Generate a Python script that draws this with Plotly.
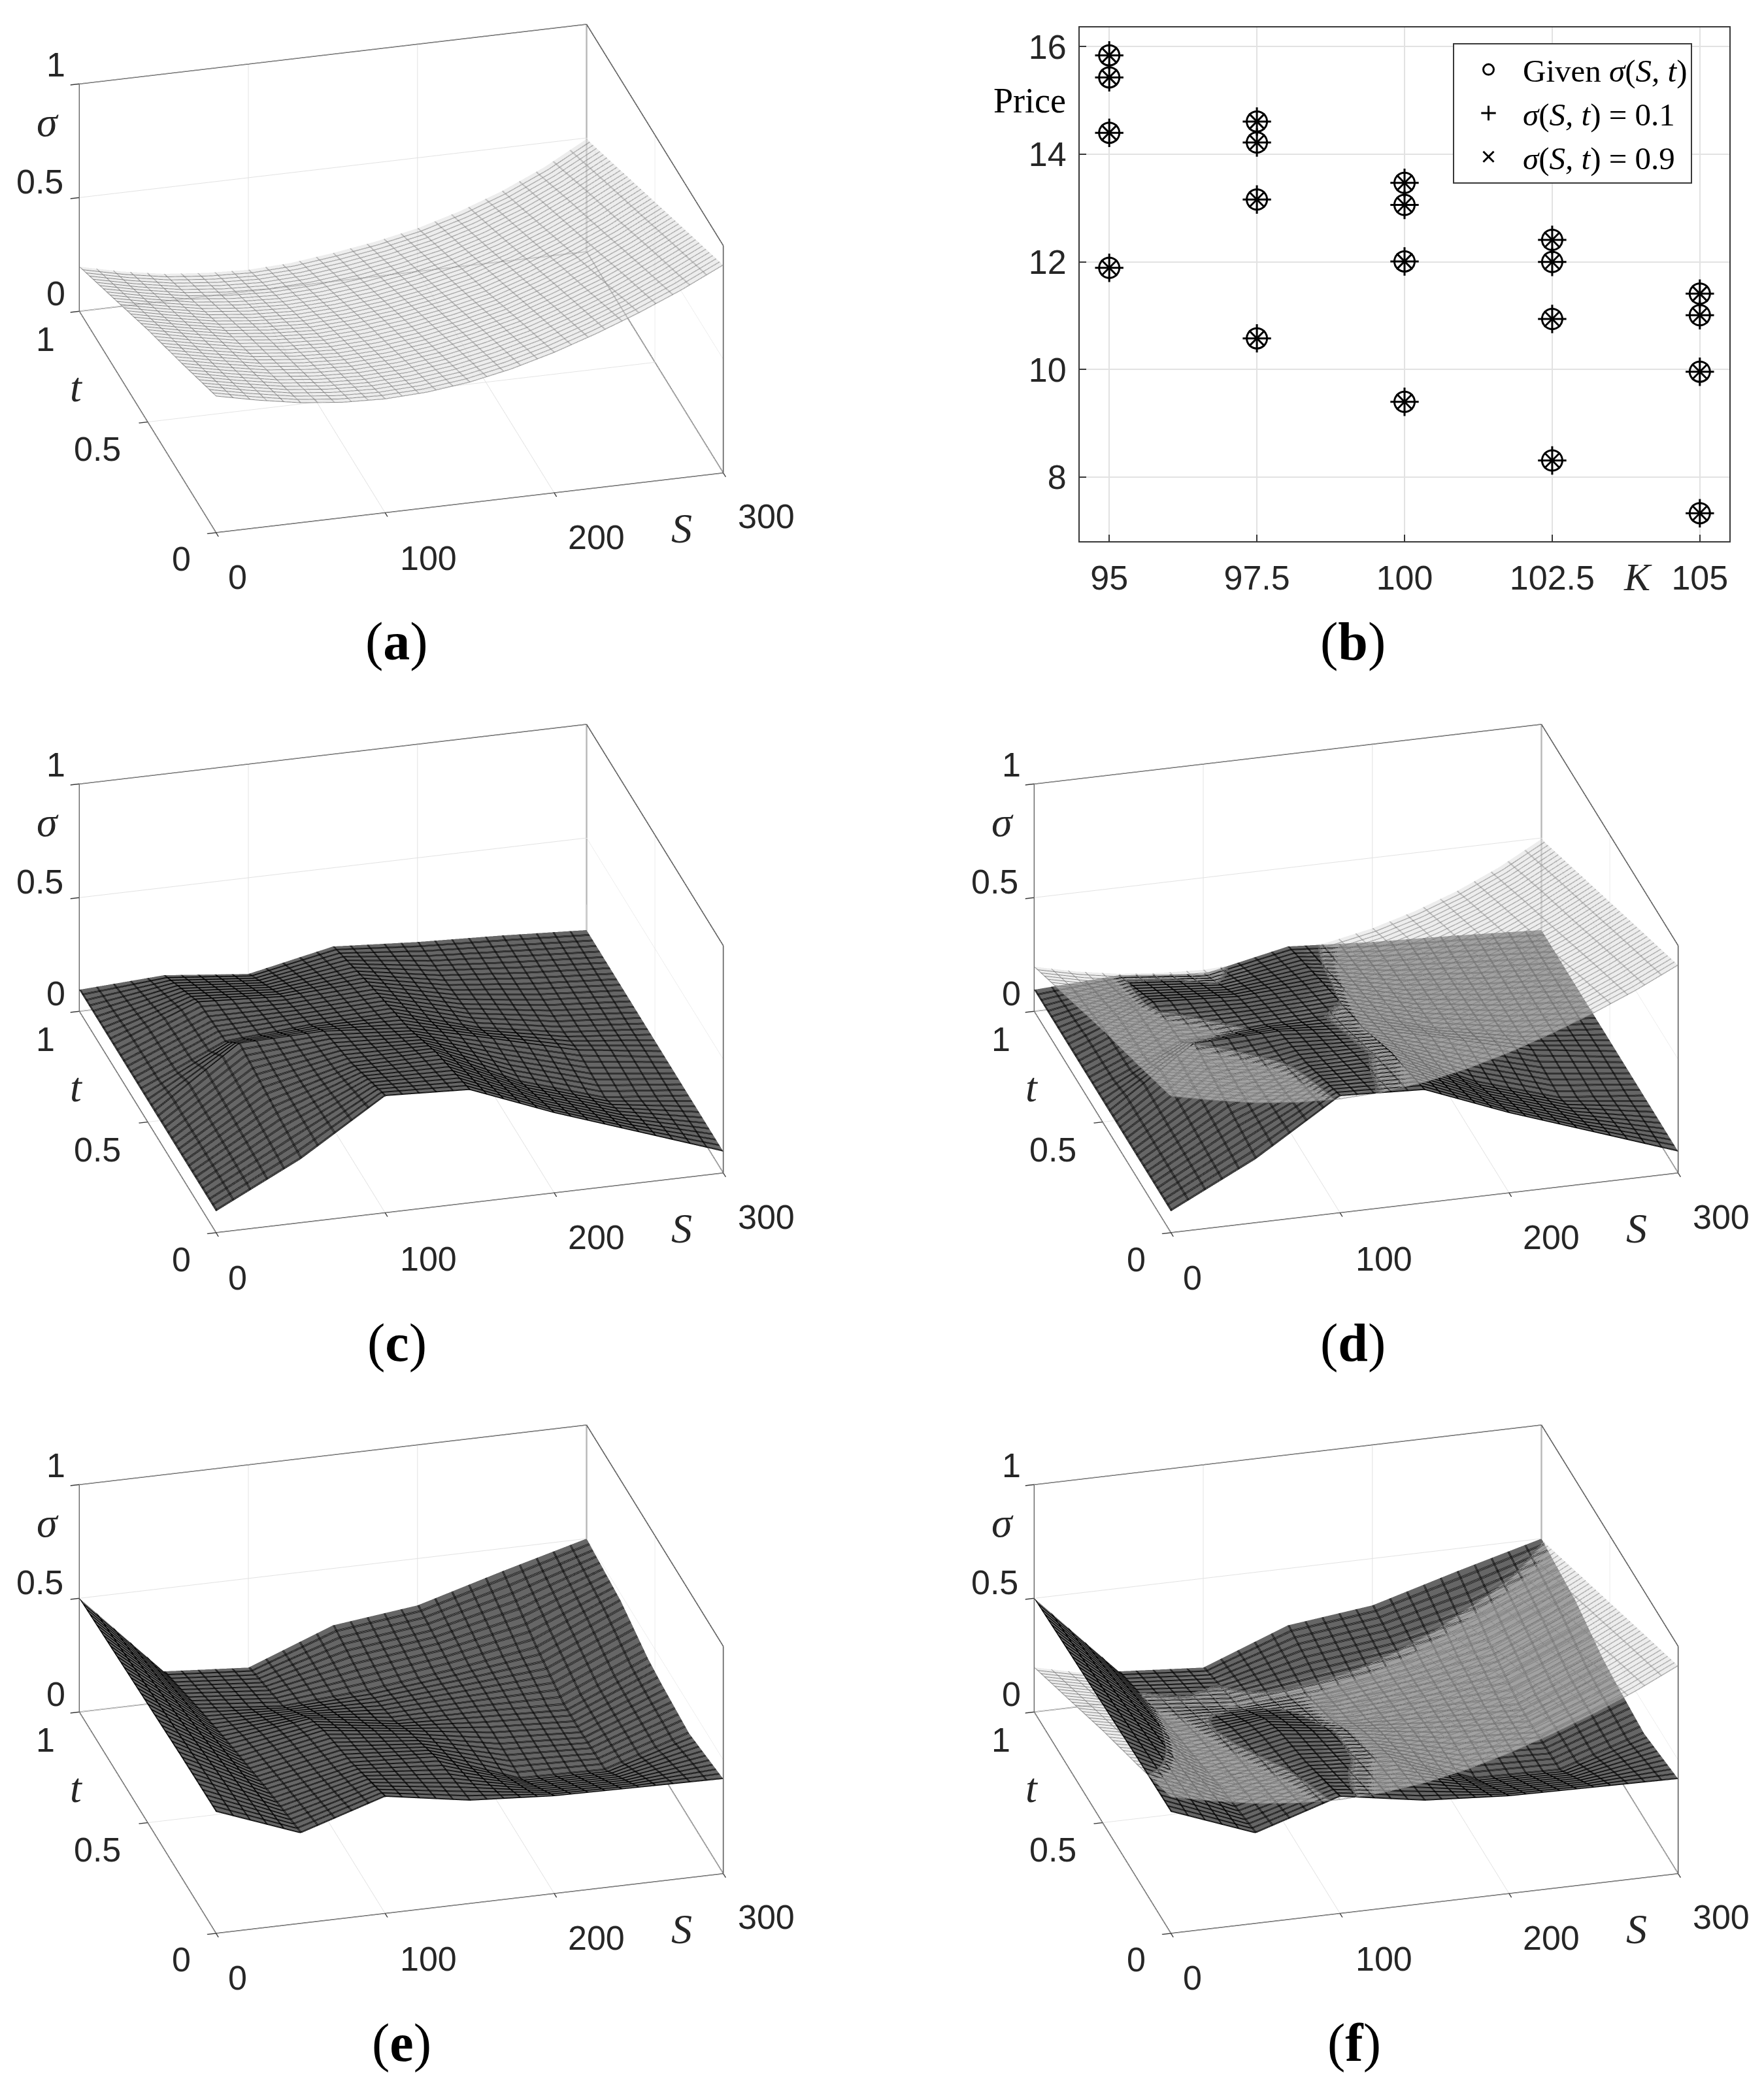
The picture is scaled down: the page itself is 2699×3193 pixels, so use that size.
import plotly.graph_objects as go

# ---------- data ----------
S_GIVEN = [0, 25, 50, 75, 100, 125, 150, 175, 200, 225, 250, 275, 300]
T_GIVEN = [0, 0.25, 0.5, 0.75, 1]
S_KNOTS = [0, 50, 100, 150, 200, 250, 300]
T_KNOTS = [0, 0.25, 0.45, 0.55, 0.75, 1]
S_TICKS = [0, 100, 200, 300]
T_TICKS = [0, 0.5, 1]
Z_TICKS = [0, 0.5, 1]

SIGMA_GIVEN = [
    [0.600, 0.560, 0.527, 0.507, 0.500, 0.508, 0.530, 0.567, 0.617, 0.678, 0.747, 0.825, 0.914],
    [0.500, 0.462, 0.428, 0.408, 0.400, 0.408, 0.430, 0.466, 0.510, 0.570, 0.638, 0.720, 0.810],
    [0.405, 0.365, 0.330, 0.310, 0.300, 0.310, 0.330, 0.360, 0.400, 0.460, 0.530, 0.610, 0.705],
    [0.300, 0.260, 0.225, 0.205, 0.197, 0.205, 0.225, 0.255, 0.295, 0.350, 0.420, 0.505, 0.600],
    [0.196, 0.153, 0.121, 0.103, 0.095, 0.103, 0.125, 0.153, 0.190, 0.243, 0.310, 0.393, 0.495],
]
SIGMA_LOW = [
    [0.095, 0.280, 0.514, 0.497, 0.352, 0.224, 0.095],
    [0.095, 0.320, 0.415, 0.420, 0.246, 0.130, 0.095],
    [0.095, 0.350, 0.360, 0.330, 0.240, 0.145, 0.095],
    [0.095, 0.260, 0.290, 0.300, 0.190, 0.125, 0.095],
    [0.095, 0.240, 0.220, 0.240, 0.160, 0.120, 0.095],
    [0.095, 0.115, 0.077, 0.154, 0.130, 0.115, 0.095],
]
SIGMA_HIGH = [
    [0.535, 0.397, 0.514, 0.453, 0.429, 0.423, 0.417],
    [0.530, 0.345, 0.420, 0.400, 0.262, 0.256, 0.374],
    [0.522, 0.295, 0.365, 0.320, 0.268, 0.248, 0.395],
    [0.518, 0.270, 0.320, 0.265, 0.262, 0.250, 0.410],
    [0.510, 0.214, 0.180, 0.205, 0.250, 0.305, 0.470],
    [0.500, 0.135, 0.108, 0.250, 0.294, 0.400, 0.500],
]

K_VALUES = [95, 97.5, 100, 102.5, 105]
K_LABELS = ["95", "97.5", "100", "102.5", "105"]
PRICE_TICKS = [8, 10, 12, 14, 16]
PRICE_K = [95]*4 + [97.5]*4 + [100]*4 + [102.5]*4 + [105]*4
PRICE_GIVEN = [15.84, 15.43, 14.40, 11.89, 14.61, 14.22, 13.16, 10.58, 13.47, 13.06, 12.01, 9.40,
               12.41, 12.00, 10.94, 8.31, 11.41, 11.01, 9.96, 7.33]
PRICE_LOW = list(PRICE_GIVEN)
PRICE_HIGH = list(PRICE_GIVEN)

# ---------- layout constants ----------
W, H = 2699, 3193
PAD = 8                       # page body margin
FW, FH = W - 2*PAD, H - 2*PAD
DOM_W, DOM_H = 1200, 830
TICK_FONT = "Liberation Sans"
MATH_FONT = "Liberation Serif"
TXT = "#262626"
LINE = "#383838"
GRID = "#e2e2e2"
EYE = (-0.2342, -0.8688, 0.4364)
EYE_SCALE = 4
ASPECT = 1.937
T_STEP = 1/40

def fx(px):
    return (px - PAD)/FW

def fy(py):
    return 1 - (py - PAD)/FH

def scene_dom(cx, cy):
    return dict(x=[fx(cx - DOM_W/2), fx(cx + DOM_W/2)],
                y=[fy(cy + DOM_H/2), fy(cy - DOM_H/2)])

def surf(x, y, z, scene, face, edge, opacity, hide=False, lines=True, ds=0.0, dt=0.0):
    off = dict(show=False, highlight=False)
    c = dict(show=True, color=edge, width=2, highlight=False)
    cx = dict(c, start=0 + ds, end=300, size=10) if lines else off
    cy = dict(c, start=0 + dt, end=1, size=T_STEP) if lines else off
    return go.Surface(
        x=x, y=y, z=z, scene=scene, showscale=False, opacity=opacity, hidesurface=hide,
        colorscale=[[0, face], [1, face]], cmin=0, cmax=1, hoverinfo="skip",
        lighting=dict(ambient=1, diffuse=0, specular=0, fresnel=0, roughness=1),
        contours=dict(x=cx, y=cy, z=off))

def dark(z, scene):
    # WebGL draws contour lines one pixel wide; neighbouring contour sets give the heavier mesh
    return [surf(S_KNOTS, T_KNOTS, z, scene, "#666666", "#000000", 1),
            surf(S_KNOTS, T_KNOTS, z, scene, "#000000", "#000000", 1, hide=True, ds=0.4, dt=0.003),
            surf(S_KNOTS, T_KNOTS, z, scene, "#000000", "#000000", 1, hide=True, ds=0.8, dt=0.006)]

def gray(scene):
    return [surf(S_GIVEN, T_GIVEN, SIGMA_GIVEN, scene, "#808080", "#808080", 1, hide=True),
            surf(S_GIVEN, T_GIVEN, SIGMA_GIVEN, scene, "#808080", "#808080", 1, hide=True, ds=0.4, dt=0.003),
            surf(S_GIVEN, T_GIVEN, SIGMA_GIVEN, scene, "#dcdcdc", "#808080", 0.5, lines=False)]

def box(scene):
    xs, ys, zs = [], [], []
    edges = [((0,1,0),(300,1,0)), ((300,1,0),(300,0,0)), ((300,0,0),(0,0,0)), ((0,0,0),(0,1,0)),
             ((0,1,0),(0,1,1)), ((300,1,0),(300,1,1)), ((300,0,0),(300,0,1)),
             ((0,1,1),(300,1,1)), ((300,1,1),(300,0,1))]
    for a, b in edges:
        xs += [a[0], b[0], None]; ys += [a[1], b[1], None]; zs += [a[2], b[2], None]
    return go.Scatter3d(x=xs, y=ys, z=zs, mode="lines", scene=scene, showlegend=False,
                        hoverinfo="skip", line=dict(color=LINE, width=3))

def labels():
    out = []
    def add(x, y, z, text, dx, dy, fam=TICK_FONT, size=52):
        out.append(dict(x=x, y=y, z=z, text=text, showarrow=False, xshift=dx, yshift=-dy,
                        xanchor="center", yanchor="middle",
                        font=dict(family=fam, size=size, color=TXT)))
    for v, t, dx, dy in zip(Z_TICKS, ["0", "0.5", "1"], [-35, -60, -35], [-27, -24, -29]):
        add(0, 1, v, t, dx, dy)
    for v, t, dx, dy in zip(T_TICKS, ["0", "0.5", "1"], [-53, -76, -51], [41, 42, 43]):
        add(0, v, 0, t, dx, dy)
    for v, t, dx, dy in zip(S_TICKS, ["0", "100", "200", "300"], [33, 67, 65, 66], [69, 70, 68, 67]):
        add(v, 0, 0, t, dx, dy)
    add(0, 1, 0.8, "<i>σ</i>", -48, -11, MATH_FONT, 64)
    add(0, 0.75, 0, "<i>t</i>", -56, 32, MATH_FONT, 64)
    add(250, 0, 0, "<i>S</i>", 66, 70, MATH_FONT, 64)
    return out

def scene_layout(cx, cy):
    def ax(vals, rng):
        return dict(range=rng, tickvals=vals, showticklabels=False, title=dict(text=""),
                    showgrid=True, gridcolor=GRID, gridwidth=2, showline=False, zeroline=False,
                    showbackground=False, showspikes=False, ticks="outside", ticklen=14,
                    tickcolor=LINE, tickwidth=3)
    return dict(domain=scene_dom(cx, cy),
                xaxis=ax(S_TICKS, [0, 300]), yaxis=ax(T_TICKS, [0, 1]), zaxis=ax(Z_TICKS, [0, 1]),
                aspectmode="manual", aspectratio=dict(x=ASPECT, y=ASPECT, z=0.481*ASPECT),
                camera=dict(eye=dict(x=EYE[0]*EYE_SCALE, y=EYE[1]*EYE_SCALE, z=EYE[2]*EYE_SCALE),
                            center=dict(x=0, y=0, z=0), up=dict(x=0, y=0, z=1),
                            projection=dict(type="orthographic")),
                annotations=labels(), bgcolor="rgba(0,0,0,0)")

fig = go.Figure()
panels = [("scene",  613.5, 425.5, None, True),
          ("scene2", 613.5, 1497,  SIGMA_LOW, False),
          ("scene3", 2075,  1497,  SIGMA_LOW, True),
          ("scene4", 613.5, 2568.5, SIGMA_HIGH, False),
          ("scene5", 2075,  2568.5, SIGMA_HIGH, True)]
layout_scenes = {}
for name, cx, cy, dz, has_gray in panels:
    if dz is not None:
        fig.add_traces(dark(dz, name))
    if has_gray:
        fig.add_traces(gray(name))
    fig.add_trace(box(name))
    layout_scenes[name] = scene_layout(cx, cy)

# panel (b)
mk = dict(color="black", line=dict(color="black", width=3))
fig.add_trace(go.Scatter(x=PRICE_K, y=PRICE_GIVEN, mode="markers", name="Given <i>σ</i>(<i>S, t</i>)",
                         marker=dict(symbol="circle-open", size=31, **mk), hoverinfo="skip"))
fig.add_trace(go.Scatter(x=PRICE_K, y=PRICE_LOW, mode="markers", name="<i>σ</i>(<i>S, t</i>) = 0.1",
                         marker=dict(symbol="cross-thin-open", size=31, **mk), hoverinfo="skip"))
fig.add_trace(go.Scatter(x=PRICE_K, y=PRICE_HIGH, mode="markers", name="<i>σ</i>(<i>S, t</i>) = 0.9",
                         marker=dict(symbol="x-thin-open", size=24, **mk), hoverinfo="skip"))

ax2d = dict(showline=True, mirror=True, linecolor=LINE, linewidth=2, ticks="inside", ticklen=10,
            tickcolor=LINE, tickwidth=2, showgrid=True, gridcolor=GRID, gridwidth=2, zeroline=False,
            tickfont=dict(family=TICK_FONT, size=52, color=TXT))
fig.update_layout(
    width=FW, height=FH, margin=dict(l=0, r=0, t=0, b=0), paper_bgcolor="white", plot_bgcolor="white",
    showlegend=True,
    xaxis=dict(domain=[fx(1652), fx(2646)], range=[94.5, 105.5], tickvals=K_VALUES, ticktext=K_LABELS,
               ticklabelstandoff=10, **ax2d),
    yaxis=dict(domain=[fy(828), fy(41.5)], range=[6.81, 16.364], tickvals=PRICE_TICKS,
               ticklabelstandoff=8, **ax2d),
    legend=dict(x=fx(2223), y=fy(66), xanchor="left", yanchor="top", xref="paper", yref="paper",
                bgcolor="white", bordercolor=LINE, borderwidth=2, itemwidth=95,
                font=dict(family=MATH_FONT, size=49, color="black")),
    **layout_scenes)

def note(x, y, text, size=82, fam=MATH_FONT, color="black"):
    fig.add_annotation(x=fx(x), y=fy(y), xref="paper", yref="paper", text=text, showarrow=False,
                       xanchor="center", yanchor="middle", font=dict(family=fam, size=size, color=color))

note(1575, 154, "Price", 54)
note(2506, 883, "<i>K</i>", 60, color=TXT)
for x, y, t in [(607, 981, "a"), (2070, 981, "b"), (607, 2054, "c"), (2070, 2054, "d"),
                (614, 3125, "e"), (2072, 3125, "f")]:
    note(x, y, f"(<b>{t}</b>)")

fig.write_html("out.html")
